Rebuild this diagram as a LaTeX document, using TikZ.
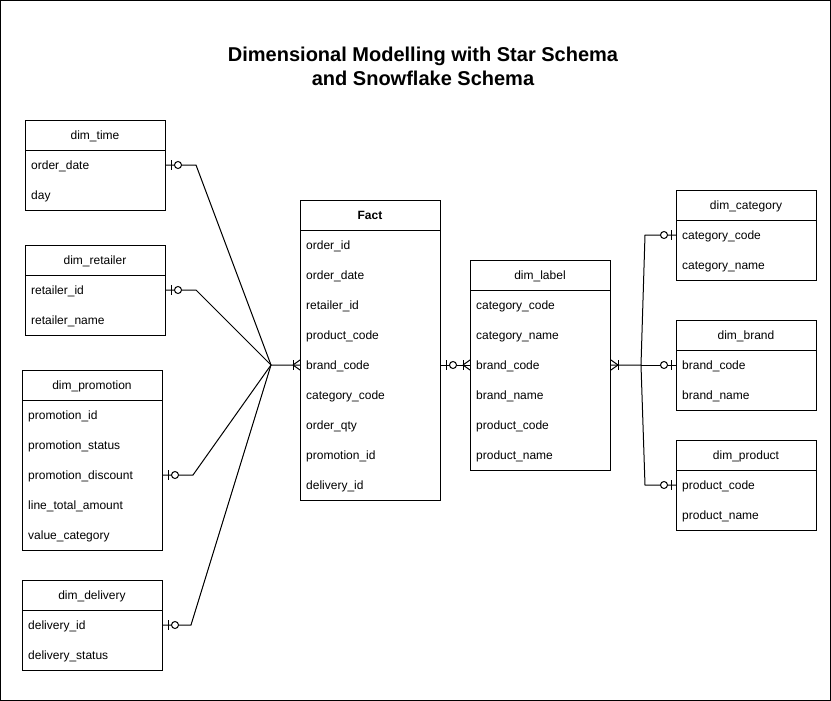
\documentclass[tikz,border=0pt]{standalone}
\usepackage{fontspec}
\setmainfont{Liberation Sans}
\usetikzlibrary{calc}
\tikzset{
 tbl/.style={draw, line width=1pt, minimum width=140pt, inner sep=0pt, anchor=north west},
 hdr/.style={inner sep=0pt, anchor=base, font=\fontsize{12}{14}\selectfont},
 rowtxt/.style={inner sep=0pt, anchor=base west, font=\fontsize{12}{14}\selectfont},
 conn/.style={line width=1pt},
}
\newcommand\erbox[6]{%
  \node[tbl, minimum height={30*#4+30}] (#1) at (#2,#3) {};
  \draw[line width=1pt] (#2,#3+30) -- ++(140,0);
  \node[hdr] (#1-h) at (#2+70,#3+19.5) {#5};
  \foreach \t [count=\i] in {#6} {
    \coordinate (#1-\i) at (#2+6,#3+15+30*\i);
    \node[rowtxt] (#1-t\i) at (#2+6,#3+19.5+30*\i) {\t};
  }
}
\newcommand\zeroone[2]{%
  \begin{scope}[shift={#1}, xscale=#2]
    \draw[conn] (5,-5) -- (5,5);
    \draw[conn, fill=white] (12,0) circle (3.5pt);
  \end{scope}}
\newcommand\onemany[2]{%
  \begin{scope}[shift={#1}, xscale=#2]
    \draw[conn] (7,0) -- (0,-5) (7,0) -- (0,5);
    \draw[conn] (7,-5) -- (7,5);
  \end{scope}}
\begin{document}
\begin{tikzpicture}[x=1pt,y=-1pt]
\useasboundingbox (0,0) rectangle (831,701);
\draw[line width=1pt] (0.5,0.5) rectangle (830.5,700.5);

\node[font=\bfseries\fontsize{20}{24}\selectfont, align=center] (title) at (423,66)
  {Dimensional Modelling with Star Schema\\and Snowflake Schema};

\erbox{time}{25}{120}{2}{dim\_time}{order\_date,day}
\erbox{ret}{25}{245}{2}{dim\_retailer}{retailer\_id,retailer\_name}
\erbox{promo}{22}{370}{5}{dim\_promotion}{promotion\_id,promotion\_status,promotion\_discount,line\_total\_amount,value\_category}
\erbox{deliv}{22}{580}{2}{dim\_delivery}{delivery\_id,delivery\_status}
\erbox{fact}{300}{200}{9}{\bfseries Fact}{order\_id,order\_date,retailer\_id,product\_code,brand\_code,category\_code,order\_qty,promotion\_id,delivery\_id}
\erbox{label}{470}{260}{6}{dim\_label}{category\_code,category\_name,brand\_code,brand\_name,product\_code,product\_name}
\erbox{cat}{676}{190}{2}{dim\_category}{category\_code,category\_name}
\erbox{brand}{676}{320}{2}{dim\_brand}{brand\_code,brand\_name}
\erbox{prod}{676}{440}{2}{dim\_product}{product\_code,product\_name}

\coordinate (hubL) at (271,365);
\coordinate (hubR) at (641,365);

% star connectors
\draw[conn] (time.east |- time-1) -- ++(30,0) -- (hubL) -- (fact.west |- fact-5);
\draw[conn] (ret.east |- ret-1) -- ++(30,0) -- (hubL);
\draw[conn] (promo.east |- promo-3) -- ++(30,0) -- (hubL);
\draw[conn] (deliv.east |- deliv-1) -- ++(28,0) -- (hubL);
\zeroone{(time.east |- time-1)}{1}
\zeroone{(ret.east |- ret-1)}{1}
\zeroone{(promo.east |- promo-3)}{1}
\zeroone{(deliv.east |- deliv-1)}{1}
\onemany{(fact.west |- fact-5)}{-1}

% fact to label
\draw[conn] (fact.east |- fact-5) -- (label.west |- label-3);
\zeroone{(fact.east |- fact-5)}{1}
\onemany{(label.west |- label-3)}{-1}

% snowflake connectors
\draw[conn] (label.east |- label-3) -- (hubR) -- ($(cat.west |- cat-1)+(-31,0)$) -- (cat.west |- cat-1);
\draw[conn] (hubR) -- (brand.west |- brand-1);
\draw[conn] (hubR) -- ($(prod.west |- prod-1)+(-31,0)$) -- (prod.west |- prod-1);
\onemany{(label.east |- label-3)}{1}
\zeroone{(cat.west |- cat-1)}{-1}
\zeroone{(brand.west |- brand-1)}{-1}
\zeroone{(prod.west |- prod-1)}{-1}
\end{tikzpicture}
\end{document}
